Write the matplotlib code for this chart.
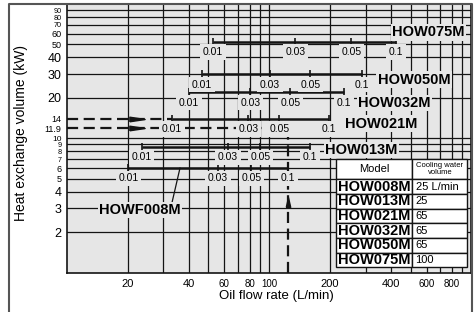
import matplotlib.pyplot as plt
from matplotlib.lines import Line2D
from matplotlib.ticker import NullLocator

plt.rcParams['font.family'] = ['Liberation Sans', 'DejaVu Sans']

# model lines: heat exchange volume (kW) and oil flow (L/min) at each ratio mark
models = ['HOW075M', 'HOW050M', 'HOW032M', 'HOW021M', 'HOW013M', 'HOW008M']
heat_kw = [52.5, 30, 22, 14, 8.6, 6]
ratios = ['0.01', '0.03', '0.05', '0.1']
flow_marks = [
    [52.8, 134.5, 254.7, 425],
    [46.5, 101, 159.5, 288],
    [40.2, 80.5, 127, 235],
    [33.1, 78.7, 112, 198],
    [23.4, 62.6, 90.2, 159.5],
    [20.1, 55.9, 81.5, 124],
]

# example reading (dashed arrows)
ex_flow = 124
ex_heat_in = 14
ex_heat_out = 11.9

# axis ticks
x_ticks = [20, 40, 60, 80, 100, 200, 400, 600, 800]
x_grid = [20, 30, 40, 50, 60, 70, 80, 90, 100, 200, 300, 400, 500, 600, 700, 800, 900]
y_ticks = [2, 3, 4, 5, 6, 7, 8, 9, 10, 11.9, 14, 20, 30, 40, 50, 60, 70, 80, 90]
y_grid = [2, 3, 4, 5, 6, 7, 8, 9, 10, 20, 30, 40, 50, 60, 70, 80, 90]

# table
table_models = ['HOW008M', 'HOW013M', 'HOW021M', 'HOW032M', 'HOW050M', 'HOW075M']
cooling_water = ['25 L/min', '25', '65', '65', '65', '100']

BG = '#e6e6e6'
INK = '#141414'

fig = plt.figure(figsize=(4.77, 3.12), dpi=100)
ax = fig.add_axes([67 / 477, 39.5 / 312, 404.5 / 477, 268.5 / 312])
ax.set_facecolor(BG)
ax.set_xscale('log')
ax.set_yscale('log')
ax.set_xlim(10, 1000)
ax.set_ylim(1, 100)

for v in x_grid:
    ax.axvline(v, color=INK, lw=0.9, zorder=1)
for h in y_grid:
    ax.axhline(h, color=INK, lw=0.9, zorder=1)

ax.set_xticks(x_ticks, [str(v) for v in x_ticks])
ax.set_yticks(y_ticks, [str(v) for v in y_ticks])
ax.xaxis.set_minor_locator(NullLocator())
ax.yaxis.set_minor_locator(NullLocator())
ax.tick_params(length=0)
ax.tick_params(axis='x', pad=5)
ax.tick_params(axis='y', pad=4)
for lab in ax.get_xticklabels():
    lab.set_fontsize(8 if lab.get_text() in ('20', '40', '200', '400') else 7)
big = ('2', '3', '4', '20', '30', '40')
tiny = ('7', '8', '9', '70', '80', '90')
for lab in ax.get_yticklabels():
    t = lab.get_text()
    if t in big:
        lab.set_fontsize(9)
    elif t in tiny:
        lab.set_fontsize(5.2)
    elif t == '10':
        lab.set_fontsize(6)
    else:
        lab.set_fontsize(6.5)
for s in ax.spines.values():
    s.set_color(INK)
    s.set_linewidth(1.2)

# model lines with ratio marks
for name, y, flows in zip(models, heat_kw, flow_marks):
    ax.plot([flows[0], flows[-1]], [y, y], color=INK, lw=1.8, zorder=3,
            solid_capstyle='butt')
    ax.plot(flows, [y] * len(flows), ls='none', marker='|', ms=6, mew=1.2,
            color=INK, zorder=3)
    for f, r in zip(flows, ratios):
        ax.annotate(r, (f, y), xytext=(0, -7.5), textcoords='offset points',
                    ha='center', va='center', fontsize=7.5, zorder=4,
                    bbox=dict(boxstyle='square,pad=0.25', fc=BG, ec='none'))

# model names
name_pos = [(406, 61.6), (343, 27.2), (276, 18.3), (238, 12.8), (189, 8.18)]
for name, (x, y) in zip(models[:5], name_pos):
    ax.text(x, y, name, fontsize=10.5, fontweight='bold', ha='left', va='center',
            zorder=4, bbox=dict(boxstyle='square,pad=0.1', fc=BG, ec='none'))

ax.text(22.9, 2.92, 'HOWF008M', fontsize=10.5, fontweight='bold', ha='center',
        va='center', zorder=4,
        bbox=dict(boxstyle='square,pad=0.1', fc=BG, ec='none'))
ax.plot([33.1, 36.2], [3.35, 6.0], color=INK, lw=0.9, zorder=3)

# example reading: dashed arrows
dash = dict(color=INK, lw=1.6, dashes=(5, 2.5), zorder=3)
ax.plot([10, flow_marks[3][0]], [ex_heat_in, ex_heat_in], **dash)
ax.plot([10, ex_flow], [ex_heat_out, ex_heat_out], **dash)
ax.plot([ex_flow, ex_flow], [1, ex_heat_out], **dash)
right_tri = [(-1, -0.3), (1, 0), (-1, 0.3), (-1, -0.3)]
up_tri = [(-0.45, -1), (0, 1), (0.45, -1), (-0.45, -1)]
ax.plot([22.3, 22.3], [ex_heat_in, ex_heat_out], ls='none', marker=right_tri,
        ms=11, color=INK, zorder=3)
ax.plot(ex_flow, 3.35, ls='none', marker=up_tri, ms=7, color=INK, zorder=3)

# cooling water table
tbl = ax.table(cellText=[[m, c] for m, c in zip(table_models, cooling_water)],
               colLabels=['Model', 'Cooling water\nvolume'],
               colWidths=[0.58, 0.42], bbox=[0.665, 0.019, 0.325, 0.404],
               cellLoc='center')
tbl.auto_set_font_size(False)
tbl.set_zorder(6)
cells = tbl.get_celld()
row_h = cells[(1, 0)].get_height()
for (r, c), cell in cells.items():
    cell.set_facecolor('white')
    cell.set_edgecolor(INK)
    cell.set_linewidth(1.0)
    txt = cell.get_text()
    if r == 0:
        cell.set_height(row_h * 1.4)
        txt.set_fontsize(8 if c == 0 else 5.5)
        txt.set_linespacing(0.9)
    elif c == 0:
        cell.PAD = 0.02
        txt.set_fontsize(10.5)
        txt.set_fontweight('bold')
    else:
        cell.PAD = 0.06
        txt.set_horizontalalignment('left')
        txt.set_fontsize(8)

# outer frame
fr = dict(transform=fig.transFigure, color='#555555', lw=1.5)
fig.add_artist(Line2D([9 / 477, 9 / 477, 472 / 477, 472 / 477],
                      [0, 1 - 4 / 312, 1 - 4 / 312, 0], **fr))

fig.text(21 / 477, 1 - 133 / 312, 'Heat exchange volume (kW)', rotation=90,
         ha='center', va='center', fontsize=10)
fig.text(276 / 477, 1 - 296 / 312, 'Oil flow rate (L/min)', ha='center',
         va='center', fontsize=9.5)

fig.savefig('out.png', dpi=100, facecolor='white')
